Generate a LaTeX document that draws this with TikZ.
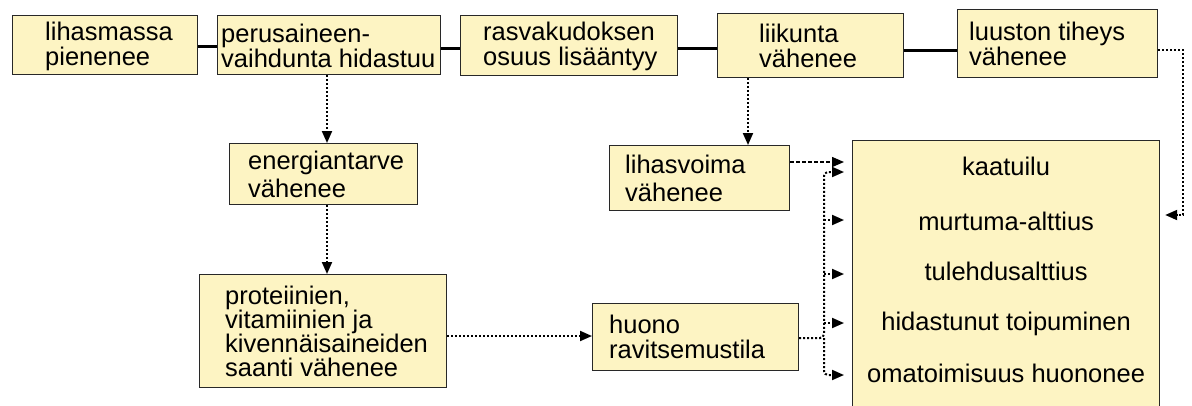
\documentclass[tikz,border=0pt]{standalone}
\usepackage{fontspec}
\setmainfont{Liberation Sans}
\usetikzlibrary{arrows.meta,calc}
\definecolor{boxfill}{RGB}{253,244,195}
\definecolor{boxline}{RGB}{40,40,40}
\tikzset{
  box/.style={draw=boxline, fill=boxfill, line width=1.2pt, inner sep=0pt, anchor=north west},
  txt/.style={inner sep=0pt, anchor=west, align=left, font=\fontsize{25.5}{25}\selectfont},
  item/.style={inner sep=0pt, anchor=base, font=\fontsize{25.5}{25}\selectfont},
  link/.style={line width=3pt, black},
  tip/.style={-{Triangle[length=12pt,width=10pt]}},
  dotarr/.style={tip, line width=2pt, dash pattern=on 2pt off 2pt, black},
  dasharr/.style={tip, line width=1.4pt, dash pattern=on 4pt off 2pt, black}
}
\begin{document}
\begin{tikzpicture}[x=1pt, y=-1pt]
\clip (0,0) rectangle (1192,405);
\fill[white] (0,0) rectangle (1192,405);

% top row of causes
\node[box, minimum width=185pt, minimum height=59pt] (b1) at (12,15) {};
\node[txt] (t1) at ([xshift=33pt,yshift=-1pt]b1.west) {lihasmassa\\pienenee};
\node[box, minimum width=223pt, minimum height=59pt] (b2) at (217,15) {};
\node[txt] (t2) at ([xshift=4pt,yshift=-1pt]b2.west) {perusaineen-\\vaihdunta hidastuu};
\node[box, minimum width=217pt, minimum height=60pt] (b3) at (460,15) {};
\node[txt] (t3) at ([xshift=23pt,yshift=-1pt]b3.west) {rasvakudoksen\\osuus lisääntyy};
\node[box, minimum width=186pt, minimum height=64pt] (b4) at (717,13) {};
\node[txt] (t4) at ([xshift=42pt]b4.west) {liikunta\\vähenee};
\node[box, minimum width=200pt, minimum height=68pt] (b5) at (957,9) {};
\node[txt] (t5) at ([xshift=12pt]b5.west) {luuston tiheys\\vähenee};

% middle and lower boxes
\node[box, minimum width=188pt, minimum height=61pt] (e) at (229,143) {};
\node[txt, font=\fontsize{25.5}{28}\selectfont] (te) at ([xshift=19pt]e.west) {energiantarve\\vähenee};
\node[box, minimum width=180pt, minimum height=65pt] (l) at (609,145) {};
\node[txt, font=\fontsize{25.5}{28}\selectfont] (tl) at ([xshift=16pt]l.west) {lihasvoima\\vähenee};
\node[box, minimum width=247pt, minimum height=113pt] (p) at (199,274) {};
\node[txt, font=\fontsize{25.5}{24}\selectfont] (tp) at ([xshift=26pt]p.west)
  {proteiinien,\\vitamiinien ja\\kivennäisaineiden\\saanti vähenee};
\node[box, minimum width=206pt, minimum height=67pt] (h) at (592,303) {};
\node[txt] (th) at ([xshift=17pt]h.west) {huono\\ravitsemustila};

% consequences
\node[box, minimum width=307pt, minimum height=275pt] (R) at (852,140) {};
\node[item] (r1) at ($(R.north)+(0,35)$) {kaatuilu};
\node[item] (r2) at ($(R.north)+(0,90)$) {murtuma-alttius};
\node[item] (r3) at ($(R.north)+(0,140)$) {tulehdusalttius};
\node[item] (r4) at ($(R.north)+(0,190)$) {hidastunut toipuminen};
\node[item] (r5) at ($(R.north)+(0,242)$) {omatoimisuus huononee};

% solid links along the top row
\draw[link] (b1.east |- 0,46) -- (b2.west |- 0,46);
\draw[link] (b2.east |- 0,48) -- (b3.west |- 0,48);
\draw[link] (b3.east |- 0,48) -- (b4.west |- 0,48);
\draw[link] (b4.east |- 0,50) -- (b5.west |- 0,50);

% dotted effect arrows
\draw[dotarr] (b2.south -| 327,0) -- (e.north -| 327,0);
\draw[dotarr] (e.south -| 327,0) -- (p.north -| 327,0);
\draw[dotarr] (p.east |- 0,336) -- (h.west |- 0,336);
\draw[dotarr] (b4.south -| 748,0) -- (l.north -| 748,0);
\draw[dasharr, shorten >=8pt] (l.east |- 0,162) -- (R.west |- 0,162);

% collector line from the nutrition box to each consequence
\coordinate (bt) at (824,172);
\coordinate (bb) at (824,375);
\draw[dotarr, rounded corners=4pt] (h.east |- 0,338) -- (bt |- 0,338) -- (bt) -- ([xshift=-8pt]R.west |- bt);
\draw[dotarr, rounded corners=4pt] (bt |- 0,338) -- (bb) -- ([xshift=-8pt]R.west |- bb);
\draw[dotarr] (bt |- 0,220) -- ([xshift=-8pt]R.west |- 0,220);
\draw[dotarr] (bt |- 0,274) -- ([xshift=-8pt]R.west |- 0,274);
\draw[dotarr] (bt |- 0,323) -- ([xshift=-8pt]R.west |- 0,323);

% bone density to fracture risk
\coordinate (rc) at (1183,50);
\draw[dotarr] (b5.east |- rc) -- (rc) -- (rc |- 0,215) -- ([xshift=5pt]R.east |- 0,215);
\end{tikzpicture}
\end{document}
